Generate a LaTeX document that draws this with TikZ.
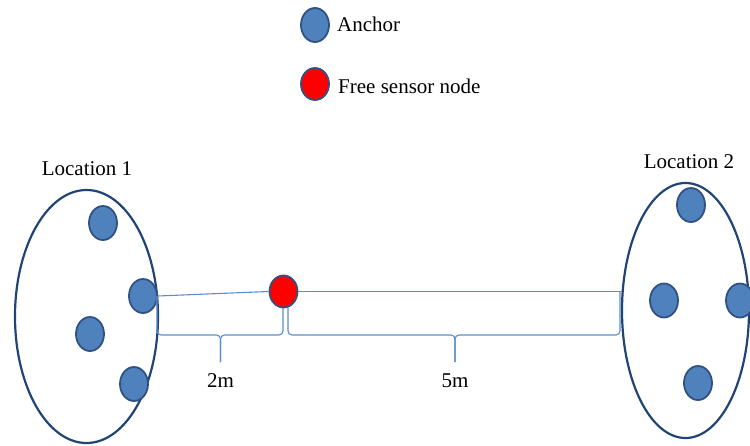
\documentclass[tikz,border=0pt]{standalone}
\usepackage{fontspec}
\setmainfont{Liberation Serif}
\usetikzlibrary{shapes.geometric,calc}
\definecolor{anchorfill}{RGB}{79,129,189}
\definecolor{anchorline}{RGB}{47,82,130}
\definecolor{regionline}{RGB}{33,68,118}
\definecolor{linkblue}{RGB}{91,141,205}
\begin{document}
\begin{tikzpicture}[x=1pt,y=-1pt,
  lbl/.style={font=\fontsize{21}{25}\selectfont, inner sep=0pt},
  anchornode/.style={ellipse, draw=anchorline, line width=1.8pt, fill=anchorfill,
    minimum width=28pt, minimum height=34pt, inner sep=0pt},
  freenode/.style={ellipse, draw=anchorline, line width=1.8pt, fill=red,
    minimum width=28pt, minimum height=32pt, inner sep=0pt},
  region/.style={ellipse, draw=regionline, line width=2.2pt, inner sep=0pt},
  link/.style={draw=linkblue, line width=1.1pt},
  bracepart/.style={draw=linkblue, line width=1.1pt, rounded corners=4pt}]
\useasboundingbox (0,0) rectangle (750,445);

% legend
\node[anchornode] (keyA) at (315,25) {};
\node[lbl, anchor=base west] (keyAt) at (337,31) {Anchor};
\node[freenode] (keyF) at (315,84) {};
\node[lbl, anchor=base west] (keyFt) at (338,93) {Free sensor node};

% location 1
\node[region, minimum width=143pt, minimum height=253pt] (L1) at (86.5,316.5) {};
\node[lbl, anchor=base] (L1t) at (87,175) {Location 1};
\node[anchornode] (a1) at (103,223) {};
\node[anchornode] (a2) at (143,296) {};
\node[anchornode] (a3) at (90,334) {};
\node[anchornode] (a4) at (134,384) {};

% location 2
\node[region, minimum width=127pt, minimum height=255pt] (L2) at (685.5,310.5) {};
\node[lbl, anchor=base] (L2t) at (689,168) {Location 2};
\node[anchornode] (b1) at (691,205) {};
\node[anchornode] (b2) at (664,300.5) {};
\node[anchornode] (b3) at (740,300.5) {};
\node[anchornode] (b4) at (698,383) {};

% free sensor node between the two locations
\node[freenode] (s) at (283.5,291.5) {};

% links
\coordinate (e2) at (L2.west |- s.east);
\draw[link] (a2.east) -- (s.west);
\draw[link] (s.east) -- ($(e2)+(1,0)$);

% distance braces
\coordinate (b1l) at (157,296);
\coordinate (b1r) at (283,308);
\coordinate (b1t) at (220.5,362);
\coordinate (b2l) at (288,308);
\coordinate (b2r) at (620,291);
\coordinate (b2t) at (455,362);
\draw[bracepart] (b1l) -- (b1l |- 0,335) -- (b1t |- 0,335) -- (b1t);
\draw[bracepart] (b1r) -- (b1r |- 0,335) -- (b1t |- 0,335) -- (b1t);
\draw[bracepart] (b2l) -- (b2l |- 0,335) -- (b2t |- 0,335) -- (b2t);
\draw[bracepart] (b2r) -- (b2r |- 0,335) -- (b2t |- 0,335) -- (b2t);
\node[lbl, anchor=base] (d1) at (220.5,387) {2m};
\node[lbl, anchor=base] (d2) at (455,387) {5m};
\end{tikzpicture}
\end{document}
